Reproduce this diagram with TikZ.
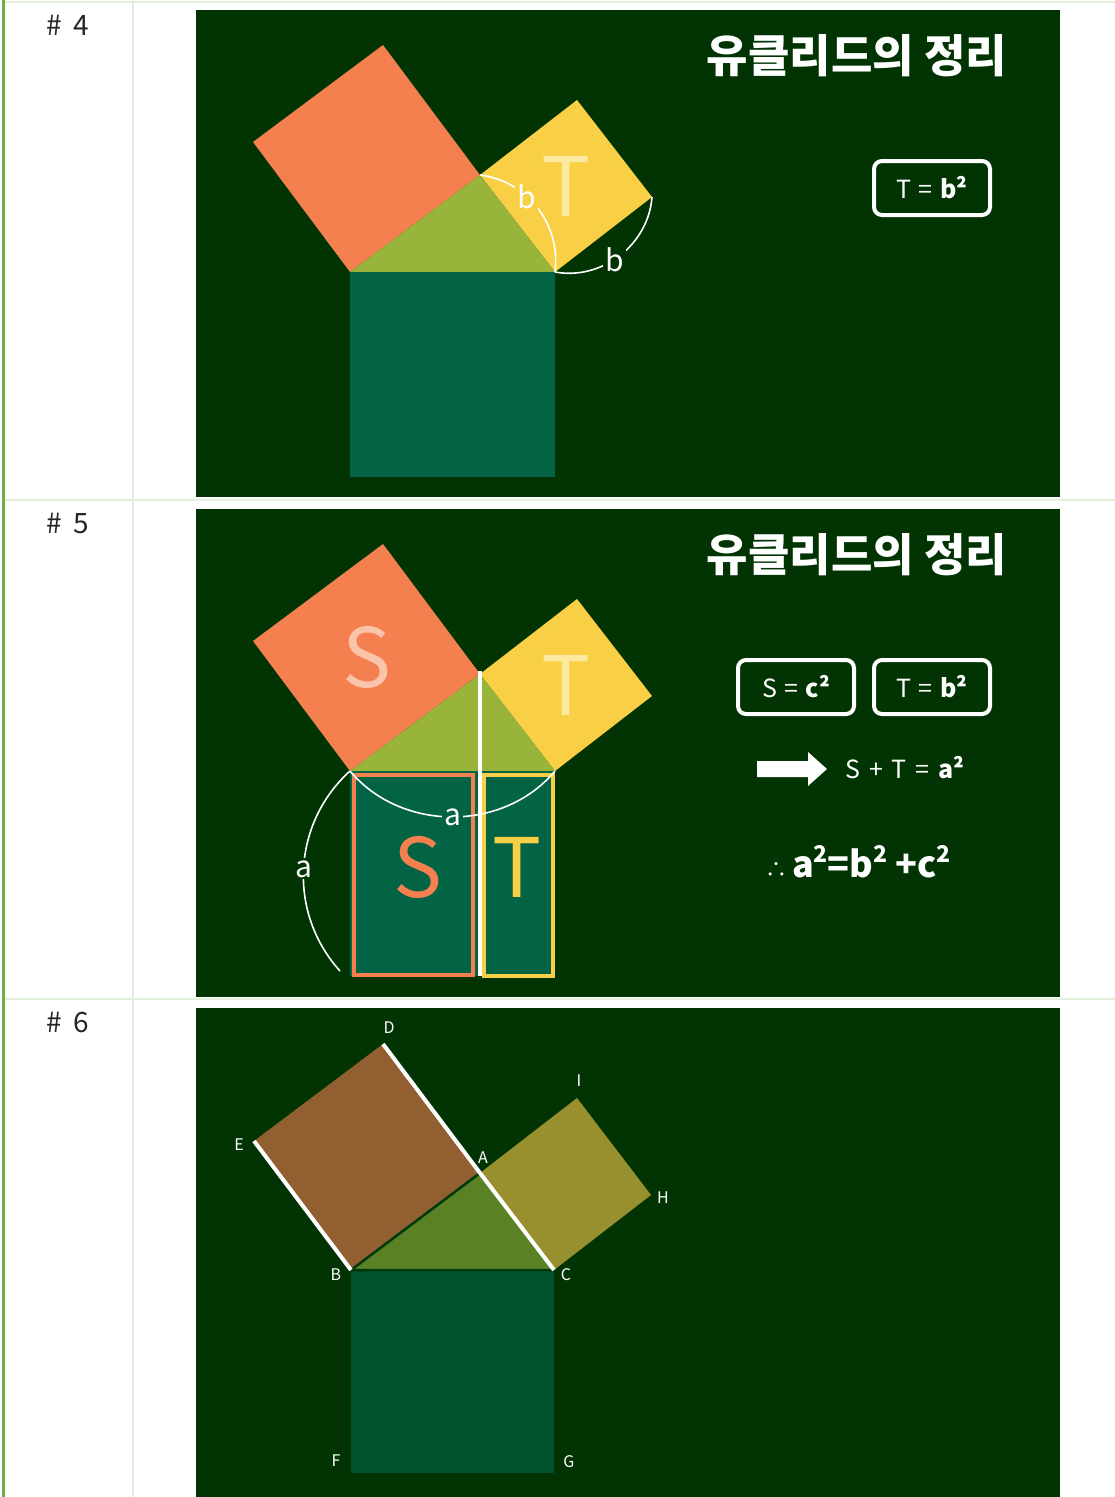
\documentclass[tikz,border=0pt]{standalone}
\usepackage{fontspec}
\setmainfont{Noto Sans CJK KR}
\usetikzlibrary{calc}
\definecolor{bgdark}{RGB}{1,52,2}
\definecolor{gridline}{RGB}{226,239,218}
\definecolor{gridbar}{RGB}{112,173,71}
\definecolor{sqorange}{RGB}{244,128,79}
\definecolor{sqyellow}{RGB}{249,207,69}
\definecolor{trigreen}{RGB}{153,180,59}
\definecolor{sqbottom}{RGB}{3,99,69}
\definecolor{paleyellow}{RGB}{253,233,160}
\definecolor{palepink}{RGB}{250,196,170}
\definecolor{sqbrown}{RGB}{146,96,48}
\definecolor{sqolive}{RGB}{152,143,46}
\definecolor{tridark}{RGB}{90,130,36}
\definecolor{sqbottomdark}{RGB}{1,80,46}
\definecolor{edgedark}{RGB}{0,58,12}

\begin{document}
\begin{tikzpicture}[x=1pt,y=-1pt,
    rowlabel/.style={text=black!85,font=\fontsize{28}{32}\selectfont},
    title/.style={text=white,font=\fontsize{45}{50}\selectfont\bfseries},
    eqbox/.style={draw=white,line width=4pt,rounded corners=8pt,minimum width=116pt,minimum height=54pt,text=white,font=\fontsize{25}{30}\selectfont},
    eqtext/.style={text=white,font=\fontsize{25}{30}\selectfont},
    bigletter/.style={font=\fontsize{82}{90}\selectfont},
    arcline/.style={draw=white,line width=1.6pt},
    arclabel/.style={text=white,inner sep=2pt,font=\fontsize{30}{34}\selectfont},
    ptlabel/.style={text=white,font=\fontsize{16}{19}\selectfont},
    sideline/.style={draw=white,line width=4pt}]
        \useasboundingbox (0,0) rectangle (1115,1497);
        \fill[white] (0,0) rectangle (1115,1497);

        % table
        \draw[gridline,line width=2pt] (5,2) -- (1115,2);
        \draw[gridline,line width=2pt] (5,500) -- (1115,500);
        \draw[gridline,line width=2pt] (5,999) -- (1115,999);
        \draw[gridline,line width=2pt] (133,0) -- (133,1497);
        \draw[gridbar,line width=3pt] (3.5,0) -- (3.5,1497);
        \node[rowlabel] (row4) at (68,25) {\#\hspace{0.4em}4};
        \node[rowlabel] (row5) at (68,524) {\#\hspace{0.4em}5};
        \node[rowlabel] (row6) at (68,1023) {\#\hspace{0.4em}6};

        \fill[bgdark] (196,10) rectangle (1060,497);
        \fill[bgdark] (196,509) rectangle (1060,997);
        \fill[bgdark] (196,1008) rectangle (1060,1497);

        % slide 4
        \def\oy{0}
            \coordinate (B) at (350,272+\oy);
            \coordinate (A) at ($(B)+(130,-97)$);
            \coordinate (C) at ($(B)+(205,0)$);
            \coordinate (E) at ($(B)+(-97,-130)$);
            \coordinate (D) at ($(A)+(-97,-130)$);
            \coordinate (I) at ($(A)+(97,-75)$);
            \coordinate (H) at ($(C)+(97,-75)$);
            \coordinate (F) at ($(B)+(0,205)$);
            \coordinate (G) at ($(C)+(0,205)$);

            \fill[sqorange] (B) -- (A) -- (D) -- (E) -- cycle;
            \fill[sqyellow] (A) -- (I) -- (H) -- (C) -- cycle;
            \fill[trigreen] (B) -- (A) -- (C) -- cycle;
            \fill[sqbottom] (B) -- (C) -- (G) -- (F) -- cycle;

            \node[bigletter,text=paleyellow] (T4) at ($(A)!0.5!(H)$) {T};
            \draw[arcline] (A) to[bend left=45] node[arclabel,fill=sqyellow,pos=0.38] (b4a) {b} (C);
            \draw[arcline] (C) to[bend right=48] node[arclabel,fill=bgdark,pos=0.45] (b4b) {b} (H);

            \node[title] (title4) at (857,56+\oy) {유클리드의 정리};
            \node[eqbox] (boxT4) at (932,188+\oy) {T\hspace{0.3em}=\hspace{0.3em}\textbf{b²}};

        % slide 5
        \def\oy{499}
            \coordinate (B) at (350,272+\oy);
            \coordinate (A) at ($(B)+(130,-97)$);
            \coordinate (C) at ($(B)+(205,0)$);
            \coordinate (E) at ($(B)+(-97,-130)$);
            \coordinate (D) at ($(A)+(-97,-130)$);
            \coordinate (I) at ($(A)+(97,-75)$);
            \coordinate (H) at ($(C)+(97,-75)$);
            \coordinate (F) at ($(B)+(0,205)$);
            \coordinate (G) at ($(C)+(0,205)$);
            \coordinate (K) at ($(B)+(130,0)$);
            \coordinate (L) at ($(F)+(130,0)$);

            \fill[sqorange] (B) -- (A) -- (D) -- (E) -- cycle;
            \fill[sqyellow] (A) -- (I) -- (H) -- (C) -- cycle;
            \fill[trigreen] (B) -- (A) -- (C) -- cycle;
            \fill[sqbottom] (B) -- (C) -- (G) -- (F) -- cycle;
            \draw[sqorange,line width=3.5pt] ($(B)+(4,4)$) rectangle ($(L)+(-7,-1)$);
            \draw[sqyellow,line width=3.5pt] ($(K)+(4,4)$) rectangle ($(G)+(-2,0)$);
            \draw[sideline] ($(A)+(0,-3)$) -- (L);

            \node[bigletter,text=palepink] (S5up) at ($(B)!0.5!(D)$) {S};
            \node[bigletter,text=paleyellow] (T5up) at ($(A)!0.5!(H)$) {T};
            \node[bigletter,text=sqorange] (S5) at ($(B)!0.5!(L)+(3,-6)$) {S};
            \node[bigletter,text=sqyellow] (T5) at ($(K)!0.5!(G)+(0,-6)$) {T};

            \draw[arcline] (B) to[bend right=50] node[arclabel,fill=sqbottom,pos=0.5] (a5a) {a} (C);
            \draw[arcline] (B) to[bend right=45] node[arclabel,fill=bgdark,pos=0.5] (a5b) {a} ($(F)+(-10,-5)$);

            \node[title] (title5) at (857,56+\oy) {유클리드의 정리};
            \node[eqbox] (boxS5) at (796,188+\oy) {S\hspace{0.3em}=\hspace{0.3em}\textbf{c²}};
            \node[eqbox] (boxT5) at (932,188+\oy) {T\hspace{0.3em}=\hspace{0.3em}\textbf{b²}};
            \fill[white] (757,761) -- (808,761) -- (808,752) -- (827,769)
                -- (808,786) -- (808,777) -- (757,777) -- cycle;
            \node[eqtext] (sum5) at (905,768) {S\hspace{0.35em}+\hspace{0.35em}T\hspace{0.35em}=\hspace{0.35em}\textbf{a²}};
            \node[text=white] (result5) at (858,862)
                {{\fontsize{22}{26}\selectfont ∴}\hspace{0.5em}{\fontsize{36}{42}\selectfont\bfseries
                a\raisebox{0.42em}{\fontsize{23}{26}\selectfont 2}=b\raisebox{0.42em}{\fontsize{23}{26}\selectfont 2}
                +c\raisebox{0.42em}{\fontsize{23}{26}\selectfont 2}}};

        % slide 6
        \def\oy{998}
            \coordinate (B) at (351,272+\oy);
            \coordinate (A) at ($(B)+(129,-97)$);
            \coordinate (C) at ($(B)+(203,0)$);
            \coordinate (E) at ($(B)+(-97,-129)$);
            \coordinate (D) at ($(A)+(-97,-129)$);
            \coordinate (I) at ($(A)+(97,-75)$);
            \coordinate (H) at ($(C)+(97,-75)$);
            \coordinate (F) at ($(B)+(0,203)$);
            \coordinate (G) at ($(C)+(0,203)$);

            \fill[sqbrown] (B) -- (A) -- (D) -- (E) -- cycle;
            \fill[sqolive] (A) -- (I) -- (H) -- (C) -- cycle;
            \fill[sqbottomdark] (B) -- (C) -- (G) -- (F) -- cycle;
            \filldraw[fill=tridark,draw=edgedark,line width=2.5pt,line join=round] (B) -- (A) -- (C) -- cycle;
            \draw[sideline] (D) -- (A) -- (C);
            \draw[sideline] (E) -- (B);

            \node[ptlabel] (lD) at ($(D)+(6,-16)$) {D};
            \node[ptlabel] (lE) at ($(E)+(-15,4)$) {E};
            \node[ptlabel] (lA) at ($(A)+(3,-15)$) {A};
            \node[ptlabel] (lI) at ($(I)+(2,-17)$) {I};
            \node[ptlabel] (lH) at ($(H)+(12,3)$) {H};
            \node[ptlabel] (lB) at ($(B)+(-15,5)$) {B};
            \node[ptlabel] (lC) at ($(C)+(12,5)$) {C};
            \node[ptlabel] (lF) at ($(F)+(-15,-12)$) {F};
            \node[ptlabel] (lG) at ($(G)+(15,-11)$) {G};

        \end{tikzpicture}
\end{document}
